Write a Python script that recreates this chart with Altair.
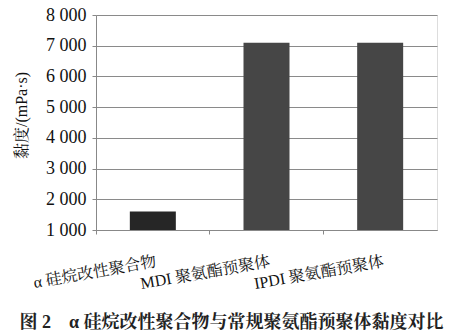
import altair as alt
import pandas as pd

categories = ["α 硅烷改性聚合物", "MDI 聚氨酯预聚体", "IPDI 聚氨酯预聚体"]
viscosity = [1600, 7100, 7100]
bar_colors = ["#262626", "#464646", "#464646"]
y_ticks = [1000, 2000, 3000, 4000, 5000, 6000, 7000, 8000]

df = pd.DataFrame({"cat": categories, "v": viscosity, "c": bar_colors})

FONT = "'Liberation Serif', 'Noto Serif CJK SC', 'Noto Sans CJK SC', serif"

bars = alt.Chart(df).mark_bar(size=46, clip=True).encode(
    x=alt.X("cat:N", sort=categories, title=None,
            scale=alt.Scale(paddingInner=0, paddingOuter=0),
            axis=alt.Axis(labelAngle=-10, labelAlign="right", labelBaseline="top",
                          labelOffset=2, labelPadding=19, tickSize=4, bandPosition=0,
                          domainColor="#888888", tickColor="#888888",
                          labelFont=FONT, labelFontSize=16, labelColor="#111111",
                          grid=False)),
    y=alt.Y("v:Q", title="黏度/(mPa·s)",
            scale=alt.Scale(domain=[1000, 8000], zero=False, nice=False),
            axis=alt.Axis(values=y_ticks,
                          labelExpr="replace(format(datum.value, ','), ',', ' ')",
                          labelFont=FONT, labelFontSize=18, labelColor="#111111",
                          tickSize=4, labelPadding=6,
                          domainColor="#888888", tickColor="#888888",
                          gridColor="#8a8a8a", gridWidth=1.2,
                          titleFont=FONT, titleFontSize=16, titleFontWeight="normal",
                          titleColor="#111111", titleX=-75, titleY=100,
                          titleAlign="center", titleBaseline="middle", titleAngle=-90)),
    color=alt.Color("c:N", scale=None, legend=None),
)

chart = bars.properties(
    width=341,
    height=215,
    padding={"left": 96, "top": 15, "right": 18, "bottom": 102},
    autosize=alt.AutoSizeParams(type="none"),
    title=alt.TitleParams(
        text="图 2　α 硅烷改性聚合物与常规聚氨酯预聚体黏度对比",
        orient="bottom", anchor="middle", frame="group", dx=-35, offset=22,
        font=FONT, fontSize=18, fontWeight="bold", color="#222222",
    ),
).configure_view(fill="#dedede", stroke=None).configure(background="white")

chart.save("out.html", embed_options={"renderer": "svg", "actions": False})
